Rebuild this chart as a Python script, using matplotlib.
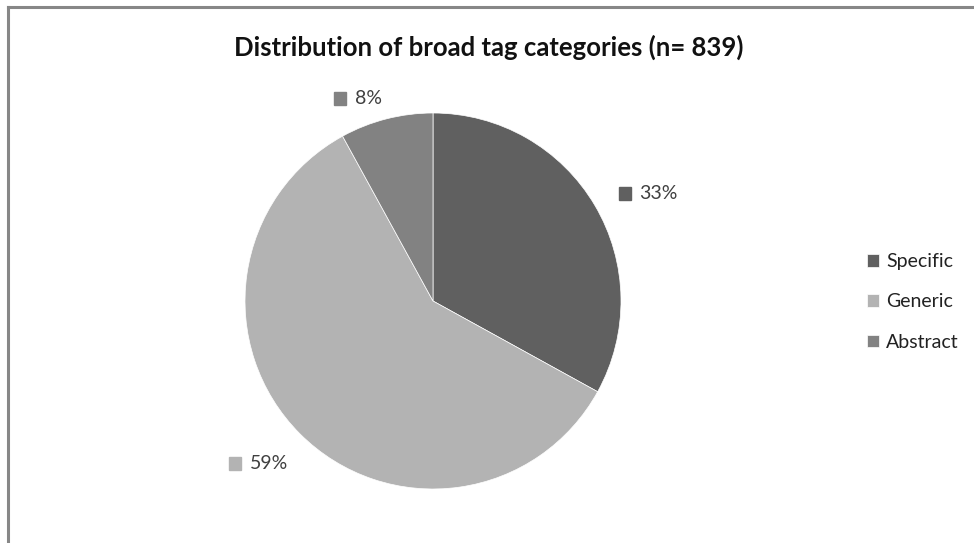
import numpy as np
import matplotlib
matplotlib.use("Agg")
from matplotlib import pyplot as plt
from matplotlib.lines import Line2D
from matplotlib.patches import Rectangle
from matplotlib.offsetbox import DrawingArea, TextArea, HPacker, AnnotationBbox

plt.rcParams['font.family'] = ['Lato', 'DejaVu Sans']

# Data (n = 839 tags)
categories = ['Specific', 'Generic', 'Abstract']
counts = [277, 495, 67]
percent_labels = ['33%', '59%', '8%']
colors = ['#606060', '#b3b3b3', '#828282']

# label placement ("best fit" look): radius and small angle nudge per slice
label_radius = [1.28, 1.27, 1.15]
label_nudge = [-4, -2, 6]

fig = plt.figure(figsize=(9.74, 5.43), dpi=100)

# chart border (top and left only visible)
fig.add_artist(Line2D([7.5 / 974, 1.0], [1 - 6.5 / 543, 1 - 6.5 / 543], color='#878787', lw=2.2))
fig.add_artist(Line2D([7.5 / 974, 7.5 / 974], [0.0, 1 - 6.5 / 543], color='#878787', lw=2.2))

ax = fig.add_axes([245 / 974, 54 / 543, 376 / 974, 376 / 543])
wedges, _ = ax.pie(counts, colors=colors, startangle=90, counterclock=False,
                   wedgeprops=dict(edgecolor='white', linewidth=0.5))
ax.set_xlim(-1, 1)
ax.set_ylim(-1, 1)
ax.set_aspect('equal')
ax.axis('off')

# data labels outside the slices: small square + percentage
for w, lab, col, r, nd in zip(wedges, percent_labels, colors, label_radius, label_nudge):
    mid = np.deg2rad((w.theta1 + w.theta2) / 2 + nd)
    x, y = r * np.cos(mid), r * np.sin(mid)
    da = DrawingArea(9, 9, 0, 0)
    da.add_artist(Rectangle((0, 0), 9, 9, color=col))
    ta = TextArea(lab, textprops=dict(fontsize=14, color='#404040'))
    box = HPacker(children=[da, ta], align='center', pad=0, sep=6)
    ax.add_artist(AnnotationBbox(box, (x, y), frameon=False, box_alignment=(0.5, 0.5),
                                 annotation_clip=False, pad=0))

fig.text(489 / 974, 1 - 47 / 543, 'Distribution of broad tag categories (n= 839)',
         ha='center', va='center', fontsize=18.5, fontweight='bold', color='#111111')

fig.legend(wedges, categories, loc='center left', bbox_to_anchor=(867 / 974, 1 - 302 / 543),
           frameon=False, fontsize=14, handlelength=0.62, handleheight=0.62,
           handletextpad=0.35, labelspacing=1.2, borderpad=0, borderaxespad=0,
           labelcolor='#222222')

fig.savefig('out.png', dpi=100)
